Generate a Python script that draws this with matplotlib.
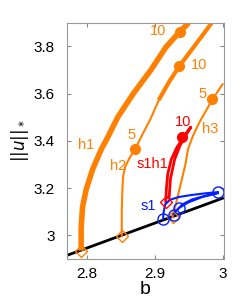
import numpy as np
import matplotlib.pyplot as plt

plt.rcParams['font.family'] = ['Liberation Sans', 'DejaVu Sans']

# donnees
trivial_b = [2.77, 3.0]
trivial_u = [2.915, 3.157]

h1_b = [2.791, 2.791, 2.793, 2.7985, 2.808, 2.821, 2.829, 2.845, 2.868, 2.894, 2.916, 2.937, 2.950]
h1_u = [2.935, 3.03, 3.12, 3.195, 3.28, 3.366, 3.408, 3.5, 3.6, 3.70, 3.796, 3.863, 3.9]

h2_b = [2.851, 2.851, 2.852, 2.853, 2.856, 2.862, 2.871, 2.882, 2.893, 2.907]
h2_u = [2.996, 3.1, 3.2, 3.25, 3.29, 3.325, 3.366, 3.43, 3.49, 3.58]
h2s_b = [2.907, 2.921, 2.936, 2.958, 2.984]
h2s_u = [3.58, 3.65, 3.716, 3.80, 3.9]

h3_b = [2.926, 2.930, 2.935, 2.940, 2.945, 2.949, 2.956, 2.966, 2.976, 2.985, 3.0]
h3_u = [3.077, 3.12, 3.18, 3.24, 3.30, 3.366, 3.42, 3.48, 3.53, 3.576, 3.64]

s1h1_b = [2.916, 2.917, 2.919, 2.924, 2.932, 2.943, 2.953, 2.947, 2.937, 2.929, 2.923, 2.921]
s1h1_u = [3.142, 3.2, 3.26, 3.32, 3.37, 3.42, 3.458, 3.43, 3.38, 3.32, 3.24, 3.16]

s1a_b = [2.912, 2.913, 2.915, 2.922, 2.935, 2.955, 2.975, 2.993]
s1a_u = [3.068, 3.1, 3.13, 3.15, 3.162, 3.171, 3.178, 3.183]
s1b_b = [2.934, 2.940, 2.955, 2.975, 2.993]
s1b_u = [3.11, 3.13, 3.152, 3.168, 3.18]
s1c_b = [2.927, 2.935, 2.95, 2.97, 2.993]
s1c_u = [3.09, 3.115, 3.14, 3.162, 3.178]

fold_b = [2.791, 2.851, 2.926]
fold_u = [2.935, 2.996, 3.077]
dots_b = [2.937, 2.871, 2.936, 2.985]
dots_u = [3.863, 3.366, 3.716, 3.576]
blue_circ_b = [2.912, 2.928, 2.936, 2.993]
blue_circ_u = [3.068, 3.085, 3.115, 3.183]

orange = '#ff8000'
fig = plt.figure(figsize=(2.48, 3.0), dpi=100)
ax = fig.add_axes([0.27, 0.137, 0.633, 0.787])

ax.plot(trivial_b, trivial_u, color='black', lw=2)
ax.plot(h1_b, h1_u, color=orange, lw=4, solid_capstyle='butt')
ax.plot(h2_b, h2_u, color=orange, lw=1.5)
ax.plot(h2s_b, h2s_u, color=orange, lw=3)
ax.plot(h3_b, h3_u, color=orange, lw=1.5)
ax.plot(s1h1_b, s1h1_u, color='#ff0000', lw=2)
for bb, uu in [(s1a_b, s1a_u), (s1b_b, s1b_u), (s1c_b, s1c_u)]:
    ax.plot(bb, uu, color='#0020ff', lw=1.5)

ax.plot(fold_b, fold_u, 'D', ms=6, mfc='none', mec=orange, mew=1)
ax.plot([2.917], [3.142], 'D', ms=6, mfc='none', mec='#ff0000', mew=1)
ax.plot(blue_circ_b, blue_circ_u, 'o', ms=8, mfc='none', mec='#0020ff', mew=1)
ax.plot(dots_b, dots_u, 'o', ms=7, color=orange)
ax.plot([2.94], [3.415], 'o', ms=7, color='#ff0000')

fs = 10.5
ax.text(2.916, 3.865, '10', color=orange, fontsize=fs, ha='right', va='center')
ax.text(2.953, 3.72, '10', color=orange, fontsize=fs, ha='left', va='center')
ax.text(2.976, 3.6, '5', color=orange, fontsize=fs, ha='right', va='center')
ax.text(2.872, 3.425, '5', color=orange, fontsize=fs, ha='right', va='center')
ax.text(2.941, 3.48, '10', color='#ff0000', fontsize=fs, ha='center', va='center')
ax.text(2.7985, 3.383, 'h1', color=orange, fontsize=fs, ha='center', va='center')
ax.text(2.845, 3.295, 'h2', color=orange, fontsize=fs, ha='center', va='center')
ax.text(2.982, 3.45, 'h3', color=orange, fontsize=fs, ha='center', va='center')
ax.text(2.897, 3.303, 's1h1', color='#ff0000', fontsize=fs, ha='center', va='center')
ax.text(2.89, 3.125, 's1', color='#0020ff', fontsize=fs, ha='center', va='center')

ax.set_xlim(2.77, 3.002)
ax.set_ylim(2.9, 3.9)
ax.set_xticks([2.8, 2.9, 3.0])
ax.set_xticklabels(['2.8', '2.9', '3'])
ax.set_yticks([3.0, 3.2, 3.4, 3.6, 3.8])
ax.set_yticklabels(['3', '3.2', '3.4', '3.6', '3.8'])
ax.tick_params(direction='in', top=True, right=True, labelsize=11, length=3, color='#888888')
ax.tick_params(axis='y', pad=9)
ax.tick_params(axis='x', pad=6)
for s in ax.spines.values():
    s.set_color('#999999')
ax.set_xlabel('b', fontsize=14, labelpad=0)
ax.set_ylabel(r'$||u||_*$', fontsize=12, labelpad=2)

fig.savefig('out.png', dpi=100)
